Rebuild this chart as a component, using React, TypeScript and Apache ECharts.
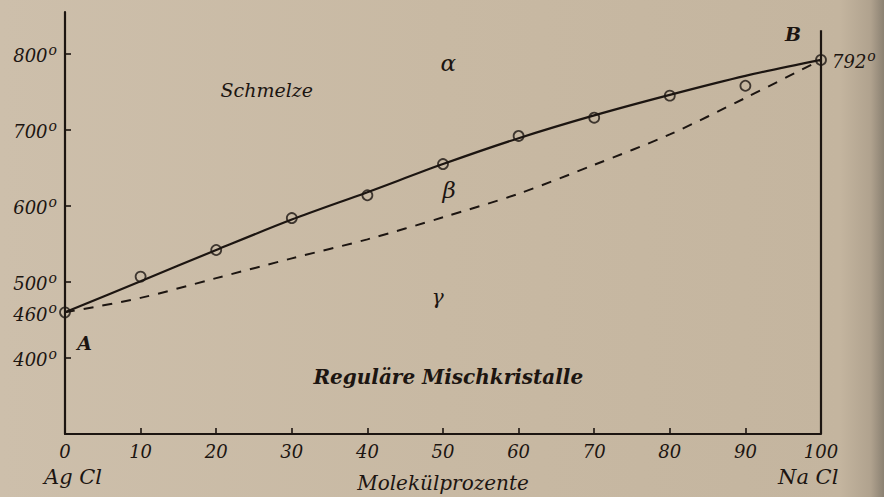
import React, { useEffect, useRef } from "react";
import * as echarts from "echarts";

const xValues = [0, 10, 20, 30, 40, 50, 60, 70, 80, 90, 100];
const liquidus = [460, 501, 542, 582, 618, 655, 689, 719, 746, 771, 792];
const solidus = [460, 479, 505, 531, 556, 585, 616, 654, 694, 742, 792];
const measured = [460, 507, 542, 584, 614, 655, 692, 716, 745, 758, 792];
const yTickValues = [400, 500, 600, 700, 800];
const yLabelValues = [400, 460, 500, 600, 700, 800];

const INK = "#1c1511";
const SERIF = "'DejaVu Serif', 'Liberation Serif', serif";

const annotations = [
  { text: "Schmelze", x: 26.7, y: 752, size: 19, weight: "normal" },
  { text: "α", x: 50.7, y: 788, size: 23, weight: "normal" },
  { text: "β", x: 50.8, y: 621, size: 23, weight: "normal" },
  { text: "γ", x: 49.3, y: 480, size: 20, weight: "normal" },
  { text: "A", x: 2.6, y: 420, size: 19, weight: "bold" },
  { text: "B", x: 96.3, y: 826, size: 19, weight: "bold" },
  { text: "Reguläre Mischkristalle", x: 50.7, y: 375, size: 20, weight: "bold" },
];

export default function App() {
  const ref = useRef<HTMLDivElement>(null);
  useEffect(() => {
    document.body.style.margin = "0";
    const chart = echarts.init(ref.current!, null, { renderer: "svg" });
    const degRich = {
      n: { fontSize: 18, fontFamily: SERIF, fontStyle: "italic", color: INK, lineHeight: 22, verticalAlign: "bottom" },
      d: { fontSize: 14, fontFamily: SERIF, fontStyle: "italic", color: INK, lineHeight: 22, verticalAlign: "top", padding: [0, 0, 8, 1] },
    };
    const markData: any[] = annotations.map((a) => ({
      coord: [a.x, a.y],
      symbolSize: 0,
      label: {
        show: true,
        position: "inside",
        formatter: a.text,
        fontFamily: SERIF,
        fontStyle: "italic",
        fontWeight: a.weight,
        fontSize: a.size,
        color: INK,
      },
    }));
    markData.push({
      coord: [xValues[xValues.length - 1], measured[measured.length - 1]],
      symbolSize: 0,
      label: {
        show: true,
        position: "right",
        distance: 11,
        formatter: "{n|" + measured[measured.length - 1] + "}{d|o}",
        rich: degRich,
      },
    });
    chart.setOption({
      animation: false,
      grid: { left: 65, right: 63, top: 12, bottom: 63, outerBoundsMode: "none", containLabel: false },
      xAxis: {
        type: "value",
        min: 0,
        max: 100,
        interval: 10,
        name: "Molekülprozente",
        nameLocation: "middle",
        nameGap: 39,
        nameTextStyle: { fontFamily: SERIF, fontStyle: "italic", fontSize: 20, color: INK },
        axisLine: { lineStyle: { color: INK, width: 2.2 } },
        axisTick: { inside: true, length: 6, lineStyle: { color: INK, width: 1.6 } },
        axisLabel: { fontFamily: SERIF, fontStyle: "italic", fontSize: 18, color: INK, margin: 8 },
        splitLine: { show: false },
      },
      yAxis: {
        type: "value",
        min: 300,
        max: 855,
        interval: 100,
        axisLine: { show: true, lineStyle: { color: INK, width: 2.2 } },
        axisTick: { inside: true, length: 6, customValues: yTickValues, lineStyle: { color: INK, width: 1.6 } },
        axisLabel: {
          customValues: yLabelValues,
          margin: 8,
          formatter: (v: number) => (yLabelValues.includes(v) ? "{n|" + v + "}{d|o}" : ""),
          rich: degRich,
        },
        splitLine: { show: false },
      },
      graphic: [
        { type: "text", left: 44, top: 466, style: { text: "Ag Cl", fontFamily: SERIF, fontStyle: "italic", fontSize: 21, fill: INK } },
        { type: "text", left: 778, top: 466, style: { text: "Na Cl", fontFamily: SERIF, fontStyle: "italic", fontSize: 21, fill: INK } },
      ],
      series: [
        {
          type: "line",
          data: xValues.map((x, i) => [x, liquidus[i]]),
          smooth: 0.3,
          showSymbol: false,
          lineStyle: { color: INK, width: 2.2 },
          markLine: {
            silent: true,
            symbol: "none",
            label: { show: false },
            lineStyle: { color: INK, width: 2.2, type: "solid" },
            data: [[{ coord: [100, 300] }, { coord: [100, 831] }]],
          },
        },
        {
          type: "line",
          data: xValues.map((x, i) => [x, solidus[i]]),
          smooth: 0.3,
          showSymbol: false,
          lineStyle: { color: INK, width: 2, type: [10, 9] },
        },
        {
          type: "scatter",
          data: xValues.map((x, i) => [x, measured[i]]),
          symbol: "circle",
          symbolSize: 10,
          itemStyle: { color: "rgba(0,0,0,0)", borderColor: INK, borderWidth: 1.8 },
          markPoint: { symbol: "circle", symbolSize: 0, data: markData },
          z: 5,
        },
      ],
    });
    return () => chart.dispose();
  }, []);
  return (
    <div
      ref={ref}
      style={{
        width: 884,
        height: 497,
        background:
          "linear-gradient(to right, #cdbfab 0%, #c8b9a3 50%, #c4b59f 95%, #b0a28e 98.5%, #8b8172 100%)",
      }}
    />
  );
}
